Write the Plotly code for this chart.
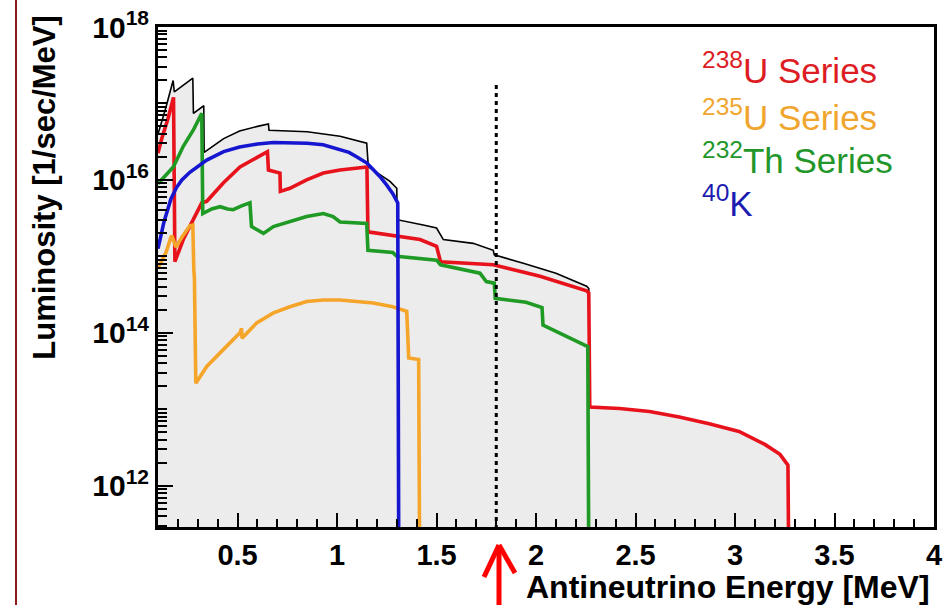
import plotly.graph_objects as go

# ---------------- data (energies in MeV, luminosity as log10 of 1/sec/MeV) ----------------
x_range = [0.1, 4.0]
y_log_range = [11.46, 18.0]
floor_log = 11.0          # below the visible axis: used for the drops to the bottom
threshold_E = 1.8         # dotted line (inverse beta decay threshold)
threshold_top_log = 17.24

total_E = [0.100, 0.140, 0.176, 0.182, 0.275, 0.278, 0.330, 0.332, 0.430, 0.510, 0.600, 0.655,
           0.658, 0.850, 1.015, 1.149, 1.157, 1.216, 1.266, 1.300, 1.302, 1.433, 1.500, 1.534,
           1.684, 1.785, 1.790, 1.936, 2.100, 2.254, 2.265, 2.270, 2.420, 2.570, 2.720, 2.870,
           3.020, 3.150, 3.226, 3.266, 3.270]
total_log = [16.60, 16.95, 17.30, 17.15, 17.33, 16.87, 16.97, 16.36, 16.54, 16.64, 16.70, 16.73,
             16.65, 16.63, 16.57, 16.48, 16.17, 16.07, 15.98, 15.89, 15.48, 15.41, 15.37, 15.22,
             15.17, 15.08, 15.02, 14.91, 14.78, 14.61, 14.58, 13.03, 13.01, 12.97, 12.90, 12.81,
             12.71, 12.54, 12.41, 12.27, 11.0]

u238_E = [0.100, 0.120, 0.150, 0.178, 0.185, 0.227, 0.277, 0.320, 0.345, 0.428, 0.512, 0.596,
          0.650, 0.655, 0.713, 0.715, 0.763, 0.847, 0.931, 1.015, 1.098, 1.150, 1.155, 1.266,
          1.417, 1.500, 1.520, 1.785, 2.020, 2.254, 2.265, 2.270, 2.420, 2.570, 2.720, 2.870,
          3.020, 3.150, 3.226, 3.266, 3.270]
u238_log = [16.35, 16.55, 16.80, 17.08, 14.93, 15.22, 15.48, 15.70, 15.72, 15.96, 16.17, 16.30,
            16.37, 16.13, 16.09, 15.85, 15.89, 16.00, 16.09, 16.13, 16.16, 16.17, 15.32, 15.28,
            15.22, 15.13, 14.93, 14.89, 14.74, 14.55, 14.52, 13.03, 13.01, 12.97, 12.90, 12.81,
            12.71, 12.54, 12.41, 12.27, 11.0]

u235_E = [0.100, 0.120, 0.140, 0.165, 0.170, 0.190, 0.220, 0.260, 0.275, 0.280, 0.283, 0.290,
          0.345, 0.428, 0.512, 0.520, 0.522, 0.596, 0.680, 0.763, 0.847, 0.931, 1.015, 1.098,
          1.182, 1.280, 1.350, 1.360, 1.410, 1.415]
u235_log = [14.85, 14.95, 15.05, 15.25, 15.27, 15.12, 15.25, 15.40, 15.41, 14.82, 14.72, 13.34,
            13.56, 13.78, 14.00, 14.06, 13.93, 14.13, 14.26, 14.34, 14.41, 14.43, 14.43, 14.41,
            14.39, 14.34, 14.28, 13.67, 13.65, 11.0]

th232_E = [0.100, 0.130, 0.177, 0.227, 0.277, 0.320, 0.325, 0.370, 0.412, 0.450, 0.478, 0.520,
           0.562, 0.570, 0.630, 0.680, 0.763, 0.847, 0.931, 0.980, 1.015, 1.149, 1.155, 1.280,
           1.300, 1.500, 1.520, 1.718, 1.750, 1.790, 1.795, 1.950, 2.030, 2.035, 2.260, 2.265]
th232_log = [15.95, 16.03, 16.17, 16.44, 16.65, 16.87, 15.56, 15.62, 15.65, 15.62, 15.61, 15.66,
             15.70, 15.39, 15.30, 15.39, 15.45, 15.52, 15.56, 15.52, 15.45, 15.43, 15.08, 15.05,
             15.00, 14.95, 14.89, 14.78, 14.67, 14.65, 14.45, 14.40, 14.33, 14.10, 13.82, 11.0]

k40_E = [0.100, 0.115, 0.130, 0.144, 0.165, 0.193, 0.220, 0.260, 0.300, 0.345, 0.400, 0.430,
         0.510, 0.600, 0.680, 0.760, 0.850, 0.930, 1.015, 1.060, 1.100, 1.150, 1.180, 1.220,
         1.250, 1.280, 1.305, 1.310]
k40_log = [15.10, 15.30, 15.45, 15.57, 15.75, 15.90, 16.00, 16.10, 16.18, 16.26, 16.33, 16.37,
           16.43, 16.47, 16.49, 16.49, 16.48, 16.46, 16.40, 16.36, 16.30, 16.22, 16.14, 16.03,
           15.93, 15.82, 15.70, 11.0]

series_names = ["<sup>238</sup>U Series", "<sup>235</sup>U Series", "<sup>232</sup>Th Series", "<sup>40</sup>K"]
line_colors = ["#e8121c", "#f5a52a", "#1f9a24", "#1616d0"]
text_colors = ["#dd1c24", "#f0a62e", "#23962a", "#1c1cb0"]

x_tick_vals = [0.5, 1, 1.5, 2, 2.5, 3, 3.5, 4]
x_tick_text = ["0.5", "1", "1.5", "2", "2.5", "3", "3.5", "4"]
y_tick_exps = [12, 14, 16, 18]


def lum(logs):
    return [10 ** v for v in logs]


fig = go.Figure()

# gray area under the total spectrum
fig.add_trace(go.Scatter(
    x=[total_E[0]] + total_E, y=lum([floor_log] + total_log),
    mode="lines", fill="toself", fillcolor="#ececec",
    line=dict(width=0, color="rgba(0,0,0,0)"), hoverinfo="skip", showlegend=False))
# total outline
fig.add_trace(go.Scatter(x=total_E, y=lum(total_log), mode="lines",
                         line=dict(color="black", width=1.6), showlegend=False))

for E, lg, c in [(u238_E, u238_log, line_colors[0]), (u235_E, u235_log, line_colors[1]),
                 (th232_E, th232_log, line_colors[2]), (k40_E, k40_log, line_colors[3])]:
    fig.add_trace(go.Scatter(x=E, y=lum(lg), mode="lines",
                             line=dict(color=c, width=3.6), showlegend=False))

# dotted threshold line
fig.add_trace(go.Scatter(x=[threshold_E, threshold_E], y=lum([threshold_top_log, floor_log]),
                         mode="lines", line=dict(color="black", width=3, dash="4px,4px"),
                         showlegend=False))

minor_y = [m * 10 ** k for k in range(11, 18) for m in range(1, 10)
           if not (m == 1 and k in y_tick_exps)]
minor_x = [round(0.1 * i, 1) for i in range(1, 41) if round(0.1 * i, 1) not in x_tick_vals]

fig.update_layout(
    width=946, height=605,
    margin=dict(l=158, r=12, t=27, b=78, autoexpand=False),
    paper_bgcolor="white", plot_bgcolor="white", showlegend=False,
    font=dict(family="Liberation Sans, Arial, sans-serif", color="black"),
    xaxis=dict(range=x_range, showgrid=False, zeroline=False, showline=True, mirror=True,
               automargin=False,
               linecolor="black", linewidth=3, ticks="inside", ticklen=14, tickwidth=2,
               tickcolor="black", tickmode="array", tickvals=x_tick_vals, ticktext=x_tick_text,
               tickfont=dict(size=29, weight="bold"),
               minor=dict(ticks="inside", ticklen=8, tickwidth=2, tickcolor="black",
                          tickmode="array", tickvals=minor_x, showgrid=False)),
    yaxis=dict(type="log", range=y_log_range, showgrid=False, zeroline=False, showline=True,
               mirror=True, automargin=False, linecolor="black", linewidth=3, ticks="inside",
               ticklen=15, tickwidth=2, tickcolor="black", tickmode="array",
               tickvals=[10 ** k for k in y_tick_exps],
               ticktext=["10<sup>%d</sup>" % k for k in y_tick_exps],
               tickfont=dict(size=30, weight="bold"),
               minor=dict(ticks="inside", ticklen=9, tickwidth=2, tickcolor="black",
                          tickmode="array", tickvals=minor_y, showgrid=False)),
)

# axis titles (ROOT style, aligned to the end of the axes)
fig.add_annotation(text="Antineutrino Energy [MeV]", xref="paper", yref="paper",
                   x=0.998, y=-0.119, xanchor="right", yanchor="middle", showarrow=False,
                   font=dict(size=32, weight="bold"))
fig.add_annotation(text="Luminosity [1/sec/MeV]", xref="paper", yref="paper",
                   x=-0.146, y=0.68, xanchor="center", yanchor="middle", showarrow=False,
                   textangle=-90, font=dict(size=31, weight="bold"))

# legend as coloured text
legend_y = [0.918, 0.825, 0.738, 0.652]
for name, c, yy in zip(series_names, text_colors, legend_y):
    fig.add_annotation(text=name, xref="paper", yref="paper", x=0.6985, y=yy,
                       xanchor="left", yanchor="middle", showarrow=False,
                       font=dict(size=35, color=c))

# red arrow under the threshold and left border line (decorations, paper coordinates)
ax_x = (499 - 158) / 776
def py(p):
    return (527 - p) / 500
fig.add_shape(type="line", xref="paper", yref="paper", x0=ax_x, x1=ax_x, y0=py(605), y1=py(546),
              line=dict(color="#ff0000", width=5))
fig.add_shape(type="line", xref="paper", yref="paper", x0=ax_x, x1=(484 - 158) / 776,
              y0=py(545), y1=py(577), line=dict(color="#ff0000", width=5))
fig.add_shape(type="line", xref="paper", yref="paper", x0=ax_x, x1=(515 - 158) / 776,
              y0=py(545), y1=py(573), line=dict(color="#ff0000", width=5))
fig.add_shape(type="line", xref="paper", yref="paper", x0=(16 - 158) / 776, x1=(16 - 158) / 776,
              y0=py(0), y1=py(605), line=dict(color="#8a1c1c", width=2))

fig.write_html("out.html")
